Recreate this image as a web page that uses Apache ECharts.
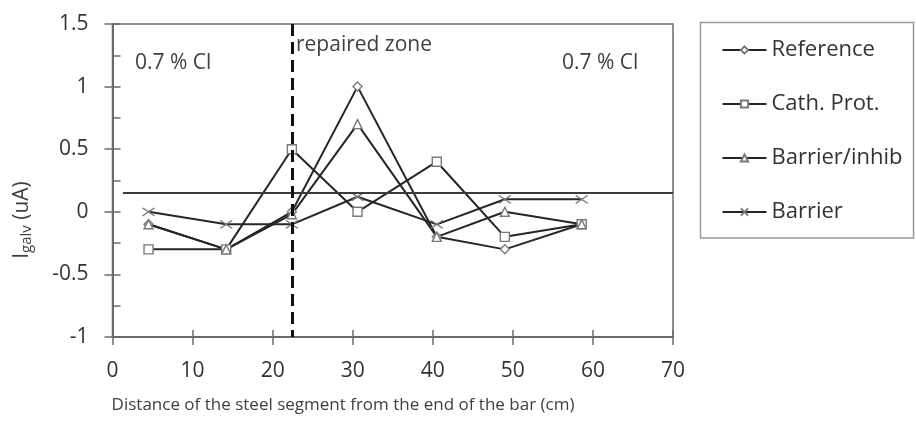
<!DOCTYPE html>
<html>
<head>
<meta charset="utf-8">
<script src="https://cdn.jsdelivr.net/npm/echarts@6/dist/echarts.min.js"></script>
<style>
  html, body { margin: 0; padding: 0; background: #fff; }
  #chart { width: 916px; height: 427px; }
</style>
</head>
<body>
<div id="chart"></div>
<script>
// ---- data ----
const distances = [4.5, 14.2, 22.4, 30.6, 40.5, 49.0, 58.6];
const seriesNames = ['Reference', 'Cath. Prot.', 'Barrier/inhib', 'Barrier'];
const referenceVals = [-0.1, -0.3, 0.0, 1.0, -0.2, -0.3, -0.1];
const cathProtVals = [-0.3, -0.3, 0.5, 0.0, 0.4, -0.2, -0.1];
const barrierInhibVals = [-0.1, -0.3, -0.02, 0.7, -0.2, 0.0, -0.1];
const barrierVals = [0.0, -0.1, -0.1, 0.12, -0.1, 0.1, 0.1];
const thresholdLevel = 0.156;
const thresholdRange = [1.3, 70];
const repairedZoneX = 22.4;
const yTicks = { min: -1, max: 1.5, interval: 0.5 };
const xTicks = { min: 0, max: 70, interval: 10 };

const FONT = 'Open Sans';
const AXIS_COLOR = '#6b6b6b';
const LINE_COLOR = '#262626';
const MARK_COLOR = '#7a7a7a';

function pairs(vals) { return distances.map((x, i) => [x, vals[i]]); }

const symbols = {
  'Reference': { symbol: 'diamond', size: 9 },
  'Cath. Prot.': { symbol: 'rect', size: 9 },
  'Barrier/inhib': { symbol: 'triangle', size: 9 },
  'Barrier': { symbol: 'path://M0,0L10,7M10,0L0,7', size: [12, 8] }
};
const valueSets = [referenceVals, cathProtVals, barrierInhibVals, barrierVals];

const series = seriesNames.map((name, k) => ({
  name: name,
  type: 'line',
  data: pairs(valueSets[k]),
  symbol: symbols[name].symbol,
  symbolSize: symbols[name].size,
  showSymbol: true,
  lineStyle: { color: LINE_COLOR, width: 2 },
  itemStyle: { color: '#ffffff', borderColor: MARK_COLOR, borderWidth: 1.4 },
  emphasis: { disabled: true },
  animation: false,
  z: 3
}));

series[0].markLine = {
  silent: true,
  symbol: ['none', 'none'],
  label: { show: false },
  animation: false,
  data: [
    [
      { coord: [thresholdRange[0], thresholdLevel], lineStyle: { color: '#3a3a3a', width: 2, type: 'solid' } },
      { coord: [thresholdRange[1], thresholdLevel] }
    ],
    [
      { coord: [repairedZoneX, yTicks.max], lineStyle: { color: '#111', width: 3, type: [12, 6] } },
      { coord: [repairedZoneX, yTicks.min] }
    ]
  ]
};

const chart = echarts.init(document.getElementById('chart'), null, { renderer: 'canvas' });

const option = {
  backgroundColor: '#ffffff',
  animation: false,
  grid: {
    left: 112.5, right: 243, top: 24, bottom: 90,
    show: true, borderColor: AXIS_COLOR, borderWidth: 1.5,
    containLabel: false, outerBoundsMode: 'none'
  },
  legend: {
    data: seriesNames,
    orient: 'vertical',
    left: 700.5,
    top: 22,
    padding: [17, 10, 20, 21],
    itemWidth: 44,
    itemHeight: 9,
    itemGap: 32,
    borderWidth: 0,
    textStyle: { fontFamily: FONT, fontSize: 22, color: '#333' },
    selectedMode: false
  },
  xAxis: [
    {
      type: 'value', min: xTicks.min, max: xTicks.max, interval: xTicks.interval,
      position: 'bottom',
      axisLine: { show: true, onZero: false, lineStyle: { color: AXIS_COLOR, width: 2 } },
      axisTick: { show: true, inside: false, length: 8, lineStyle: { color: AXIS_COLOR, width: 1.5 } },
      axisLabel: { fontFamily: FONT, fontSize: 21, color: '#333', margin: 24 },
      splitLine: { show: false }
    },
    {
      type: 'value', min: xTicks.min, max: xTicks.max, interval: xTicks.interval,
      position: 'bottom',
      axisLine: { show: false, onZero: false },
      axisTick: { show: true, inside: true, length: 7, lineStyle: { color: AXIS_COLOR, width: 1.5 } },
      axisLabel: { show: false },
      splitLine: { show: false }
    }
  ],
  yAxis: [
    {
      type: 'value', min: yTicks.min, max: yTicks.max, interval: yTicks.interval,
      position: 'left',
      axisLine: { show: true, onZero: false, lineStyle: { color: AXIS_COLOR, width: 2 } },
      axisTick: { show: true, inside: false, length: 8, lineStyle: { color: AXIS_COLOR, width: 1.5 } },
      axisLabel: { fontFamily: FONT, fontSize: 21, color: '#333', margin: 24 },
      splitLine: { show: false }
    },
    {
      type: 'value', min: yTicks.min, max: yTicks.max, interval: yTicks.interval,
      position: 'left',
      axisLine: { show: false, onZero: false },
      axisTick: { show: true, inside: true, length: 8, lineStyle: { color: AXIS_COLOR, width: 1.5 } },
      minorTick: { show: true, splitNumber: 2, length: 8, lineStyle: { color: AXIS_COLOR, width: 1.5 } },
      axisLabel: { show: false },
      splitLine: { show: false }
    }
  ],
  graphic: [
    {
      type: 'rect', silent: true, z: -1,
      shape: { x: 700.5, y: 22.5, width: 213, height: 215.5 },
      style: { fill: 'none', stroke: '#9a9a9a', lineWidth: 1.5 }
    },
    {
      type: 'text', left: 135, top: 53, silent: true,
      style: { text: '0.7 % Cl', fontFamily: FONT, fontSize: 21, fill: '#404040' }
    },
    {
      type: 'text', left: 562, top: 53, silent: true,
      style: { text: '0.7 % Cl', fontFamily: FONT, fontSize: 21, fill: '#404040' }
    },
    {
      type: 'text', left: 296, top: 35, silent: true,
      style: { text: 'repaired zone', fontFamily: FONT, fontSize: 21, fill: '#404040' }
    },
    {
      type: 'text', x: 343, y: 405, silent: true,
      style: {
        text: 'Distance of the steel segment from the end of the bar (cm)',
        fontFamily: FONT, fontSize: 17, fill: '#404040', align: 'center', verticalAlign: 'middle'
      }
    },
    {
      type: 'text', x: 22, y: 220, rotation: Math.PI / 2, silent: true,
      style: {
        text: '{m|I}{s|galv}{m| (uA)}',
        align: 'center', verticalAlign: 'middle',
        rich: {
          m: { fontFamily: FONT, fontSize: 21, fill: '#404040', lineHeight: 24, verticalAlign: 'middle' },
          s: { fontFamily: FONT, fontSize: 15, fill: '#404040', lineHeight: 24, verticalAlign: 'bottom', padding: [8, 0, 0, 0] }
        }
      }
    }
  ],
  series: series
};

chart.setOption(option);
</script>
</body>
</html>
